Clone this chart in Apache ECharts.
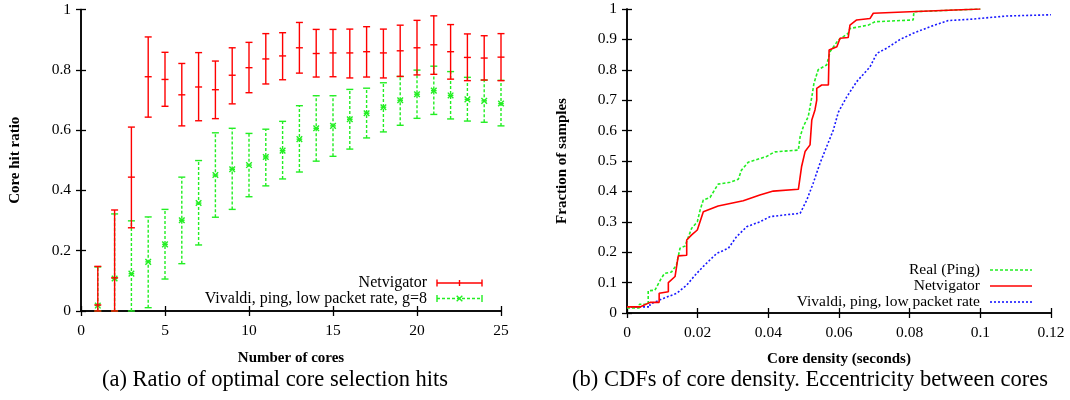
<!DOCTYPE html>
<html>
<head>
<meta charset="utf-8">
<script src="https://cdn.jsdelivr.net/npm/echarts@6/dist/echarts.min.js"></script>
<style>
html,body{margin:0;padding:0;background:#fff;}
#chart{width:1070px;height:400px;}
</style>
</head>
<body>
<div id="chart"></div>
<script>
// ---------- Data: left panel (error bars) ----------
const cores = [1,2,3,4,5,6,7,8,9,10,11,12,13,14,15,16,17,18,19,20,21,22,23,24,25];
const netMean = [0.02,0.11,0.444,0.777,0.768,0.717,0.743,0.734,0.782,0.807,0.836,0.846,0.873,0.854,0.856,0.856,0.860,0.856,0.863,0.873,0.883,0.860,0.841,0.839,0.842];
const netHigh = [0.148,0.335,0.610,0.909,0.858,0.821,0.857,0.829,0.873,0.891,0.920,0.923,0.957,0.934,0.934,0.935,0.943,0.935,0.948,0.964,0.979,0.950,0.919,0.913,0.920];
const netLow  = [0,0,0.276,0.643,0.679,0.614,0.631,0.638,0.687,0.724,0.753,0.767,0.789,0.776,0.777,0.773,0.776,0.773,0.778,0.783,0.785,0.769,0.764,0.766,0.764];
const vivMean = [0.018,0.108,0.124,0.163,0.221,0.301,0.358,0.451,0.470,0.484,0.511,0.532,0.570,0.606,0.614,0.636,0.656,0.676,0.699,0.719,0.731,0.715,0.702,0.697,0.688];
const vivHigh = [0.146,0.322,0.299,0.312,0.337,0.444,0.499,0.591,0.606,0.589,0.603,0.629,0.681,0.714,0.714,0.735,0.739,0.757,0.778,0.799,0.812,0.794,0.775,0.766,0.765];
const vivLow  = [0,0,0,0.011,0.106,0.157,0.219,0.311,0.337,0.379,0.415,0.438,0.461,0.497,0.513,0.537,0.574,0.594,0.616,0.639,0.652,0.637,0.630,0.626,0.614];
const leftXTicks = [0,5,10,15,20,25];
const leftYTicks = [0,0.2,0.4,0.6,0.8,1];

// ---------- Data: right panel (CDFs) ----------
const realX = [0,0.0035,0.0035,0.006,0.006,0.0079,0.0095,0.0106,0.0126,0.014,0.015,0.0164,0.0183,0.0199,0.0207,0.0216,0.0235,0.0258,0.0292,0.0315,0.0324,0.0343,0.0348,0.0395,0.041,0.0419,0.0485,0.049,0.0499,0.0513,0.0523,0.0529,0.0541,0.0565,0.0575,0.0598,0.0626,0.0631,0.0683,0.0702,0.081,0.0812,0.1];
const realY = [0.017,0.017,0.029,0.029,0.073,0.075,0.11,0.13,0.135,0.158,0.213,0.22,0.279,0.30,0.339,0.372,0.38,0.424,0.43,0.44,0.47,0.496,0.50,0.515,0.525,0.53,0.536,0.58,0.613,0.646,0.71,0.755,0.80,0.816,0.86,0.898,0.92,0.936,0.947,0.958,0.964,0.991,1.0];
const netvX = [0,0.0037,0.0037,0.0065,0.0091,0.0091,0.0117,0.0117,0.0136,0.0145,0.0169,0.0169,0.0183,0.0199,0.0216,0.0258,0.0329,0.0376,0.0414,0.0485,0.049,0.0494,0.0504,0.0518,0.0523,0.0532,0.0537,0.0537,0.0551,0.057,0.0572,0.0594,0.0603,0.0626,0.0631,0.065,0.0688,0.0697,0.08,0.1];
const netvY = [0.02,0.02,0.026,0.035,0.035,0.065,0.07,0.1,0.12,0.188,0.19,0.24,0.257,0.273,0.333,0.352,0.369,0.388,0.401,0.407,0.407,0.481,0.531,0.553,0.635,0.668,0.70,0.739,0.75,0.75,0.865,0.876,0.904,0.906,0.947,0.964,0.969,0.986,0.991,1.0];
const vivX = [0,0.0065,0.0065,0.0103,0.0141,0.0169,0.0197,0.022,0.0254,0.0287,0.031,0.0339,0.0376,0.0405,0.0442,0.049,0.0509,0.0527,0.0546,0.0565,0.0584,0.0598,0.0622,0.065,0.0688,0.0707,0.0735,0.0773,0.081,0.0858,0.0909,0.097,0.1075,0.12];
const vivY = [0.02,0.02,0.029,0.048,0.065,0.092,0.13,0.158,0.196,0.213,0.251,0.284,0.30,0.317,0.322,0.328,0.372,0.427,0.492,0.547,0.602,0.66,0.711,0.761,0.81,0.854,0.871,0.90,0.92,0.942,0.962,0.966,0.977,0.981];
const rightXTicks = [0,0.02,0.04,0.06,0.08,0.1,0.12];
const rightYTicks = [0,0.1,0.2,0.3,0.4,0.5,0.6,0.7,0.8,0.9,1];

const seriesNames = ['Netvigator','Vivaldi, ping, low packet rate, g=8','Real (Ping)','Netvigator','Vivaldi, ping, low packet rate'];
const captions = ['(a) Ratio of optimal core selection hits','(b) CDFs of core density. Eccentricity between cores'];

const RED = '#ff0000', GREEN = '#22ee22', BLUE = '#1a1aff';
const FONT = 'Liberation Serif';

function zip(a,b){ return a.map((v,i)=>[v,b[i]]); }

function errRender(color, dashed, marker){
  return function(params, api){
    const x = api.value(0), lo = api.value(1), hi = api.value(2), m = api.value(3);
    const pL = api.coord([x,lo]), pH = api.coord([x,hi]), pM = api.coord([x,m]);
    const st = {stroke: color, lineWidth: 1.4, fill: null};
    const dst = dashed ? Object.assign({}, st, {lineDash:[3,2]}) : st;
    const c = 3.5;
    const ch = [
      {type:'line', shape:{x1:pL[0],y1:pL[1],x2:pH[0],y2:pH[1]}, style:dst},
      {type:'line', shape:{x1:pL[0]-c,y1:pL[1],x2:pL[0]+c,y2:pL[1]}, style:st},
      {type:'line', shape:{x1:pH[0]-c,y1:pH[1],x2:pH[0]+c,y2:pH[1]}, style:st}
    ];
    if (marker === 'plus') {
      ch.push({type:'line', shape:{x1:pM[0]-3.5,y1:pM[1],x2:pM[0]+3.5,y2:pM[1]}, style:st});
    } else {
      const s = 2.8;
      ch.push({type:'line', shape:{x1:pM[0]-s,y1:pM[1]-s,x2:pM[0]+s,y2:pM[1]+s}, style:st});
      ch.push({type:'line', shape:{x1:pM[0]-s,y1:pM[1]+s,x2:pM[0]+s,y2:pM[1]-s}, style:st});
      ch.push({type:'line', shape:{x1:pM[0]-s,y1:pM[1],x2:pM[0]+s,y2:pM[1]}, style:st});
    }
    return {type:'group', children: ch};
  };
}

const chart = echarts.init(document.getElementById('chart'), null, {renderer:'canvas'});

const axisLineStyle = {show:true, lineStyle:{color:'#000', width:1.5}};
const tickIn = {show:true, inside:true, length:5, lineStyle:{color:'#000', width:1.3}};
const labelStyle = {color:'#000', fontFamily:FONT, fontSize:15.5};
const nameStyle = {color:'#000', fontFamily:FONT, fontSize:15, fontWeight:'bold'};

function mirrorX(grid, min, max, interval){
  return {type:'value', gridIndex:grid, position:'top', min, max, interval,
    axisLine:axisLineStyle, axisTick:tickIn, axisLabel:{show:false}, splitLine:{show:false}};
}
function mirrorY(grid, min, max, interval){
  return {type:'value', gridIndex:grid, position:'right', min, max, interval,
    axisLine:axisLineStyle, axisTick:tickIn, axisLabel:{show:false}, splitLine:{show:false}};
}

const option = {
  backgroundColor:'#fff',
  animation:false,
  grid:[
    {left:81, right:569, top:9.5, bottom:89},
    {left:627, right:19, top:9, bottom:87}
  ],
  xAxis:[
    {type:'value', gridIndex:0, min:leftXTicks[0], max:leftXTicks[leftXTicks.length-1], interval:5,
     axisLine:axisLineStyle, axisTick:tickIn, splitLine:{show:false},
     axisLabel:Object.assign({margin:12}, labelStyle),
     name:'Number of cores', nameLocation:'middle', nameGap:40, nameTextStyle:nameStyle},
    mirrorX(0, 0, 25, 5),
    {type:'value', gridIndex:1, min:rightXTicks[0], max:rightXTicks[rightXTicks.length-1], interval:0.02,
     axisLine:axisLineStyle, axisTick:tickIn, splitLine:{show:false},
     axisLabel:Object.assign({margin:12}, labelStyle),
     name:'Core density (seconds)', nameLocation:'middle', nameGap:39, nameTextStyle:nameStyle},
    mirrorX(1, 0, 0.12, 0.02)
  ],
  yAxis:[
    {type:'value', gridIndex:0, min:leftYTicks[0], max:leftYTicks[leftYTicks.length-1], interval:0.2,
     axisLine:axisLineStyle, axisTick:tickIn, splitLine:{show:false},
     axisLabel:Object.assign({margin:10}, labelStyle),
     name:'Core hit ratio', nameLocation:'middle', nameGap:58, nameRotate:90, nameTextStyle:nameStyle},
    mirrorY(0, 0, 1, 0.2),
    {type:'value', gridIndex:1, min:rightYTicks[0], max:rightYTicks[rightYTicks.length-1], interval:0.1,
     axisLine:axisLineStyle, axisTick:tickIn, splitLine:{show:false},
     axisLabel:Object.assign({margin:10}, labelStyle),
     name:'Fraction of samples', nameLocation:'middle', nameGap:57, nameRotate:90, nameTextStyle:nameStyle},
    mirrorY(1, 0, 1, 0.1)
  ],
  series:[
    {type:'custom', name:seriesNames[1], xAxisIndex:0, yAxisIndex:0, clip:false,
     renderItem: errRender(GREEN, true, 'cross'),
     encode:{x:0, y:[1,2,3]},
     data: cores.map((c,i)=>[c, vivLow[i], vivHigh[i], vivMean[i]]), z:2},
    {type:'custom', name:seriesNames[0], xAxisIndex:0, yAxisIndex:0, clip:false,
     renderItem: errRender(RED, false, 'plus'),
     encode:{x:0, y:[1,2,3]},
     data: cores.map((c,i)=>[c, netLow[i], netHigh[i], netMean[i]]), z:3},
    {type:'line', name:seriesNames[4], xAxisIndex:2, yAxisIndex:2, data: zip(vivX, vivY),
     showSymbol:false, lineStyle:{color:BLUE, width:1.6, type:[2,2]}, z:2},
    {type:'line', name:seriesNames[2], xAxisIndex:2, yAxisIndex:2, data: zip(realX, realY),
     showSymbol:false, lineStyle:{color:GREEN, width:1.6, type:[3,2]}, z:3},
    {type:'line', name:seriesNames[3], xAxisIndex:2, yAxisIndex:2, data: zip(netvX, netvY),
     showSymbol:false, lineStyle:{color:RED, width:1.6}, z:4}
  ],
  graphic:[
    // left legend
    {type:'text', x:427, y:283, style:{text:seriesNames[0], textAlign:'right', textVerticalAlign:'middle', font:'16px "Liberation Serif"', fill:'#000'}},
    {type:'line', shape:{x1:437,y1:283,x2:482,y2:283}, style:{stroke:RED, lineWidth:1.4}},
    {type:'line', shape:{x1:437,y1:279.5,x2:437,y2:286.5}, style:{stroke:RED, lineWidth:1.4}},
    {type:'line', shape:{x1:482,y1:279.5,x2:482,y2:286.5}, style:{stroke:RED, lineWidth:1.4}},
    {type:'line', shape:{x1:459.5,y1:280,x2:459.5,y2:286}, style:{stroke:RED, lineWidth:1.4}},
    {type:'text', x:427, y:298.5, style:{text:seriesNames[1], textAlign:'right', textVerticalAlign:'middle', font:'16px "Liberation Serif"', fill:'#000'}},
    {type:'line', shape:{x1:437,y1:298.5,x2:482,y2:298.5}, style:{stroke:GREEN, lineWidth:1.4, lineDash:[3,2]}},
    {type:'line', shape:{x1:437,y1:295,x2:437,y2:302}, style:{stroke:GREEN, lineWidth:1.4}},
    {type:'line', shape:{x1:482,y1:295,x2:482,y2:302}, style:{stroke:GREEN, lineWidth:1.4}},
    {type:'line', shape:{x1:456.7,y1:295.7,x2:462.3,y2:301.3}, style:{stroke:GREEN, lineWidth:1.4}},
    {type:'line', shape:{x1:456.7,y1:301.3,x2:462.3,y2:295.7}, style:{stroke:GREEN, lineWidth:1.4}},
    // right legend
    {type:'text', x:980, y:270, style:{text:seriesNames[2], textAlign:'right', textVerticalAlign:'middle', font:'15.5px "Liberation Serif"', fill:'#000'}},
    {type:'line', shape:{x1:990,y1:270,x2:1032,y2:270}, style:{stroke:GREEN, lineWidth:1.6, lineDash:[3,2]}},
    {type:'text', x:980, y:286, style:{text:seriesNames[3], textAlign:'right', textVerticalAlign:'middle', font:'15.5px "Liberation Serif"', fill:'#000'}},
    {type:'line', shape:{x1:990,y1:286,x2:1032,y2:286}, style:{stroke:RED, lineWidth:1.6}},
    {type:'text', x:980, y:302, style:{text:seriesNames[4], textAlign:'right', textVerticalAlign:'middle', font:'15.5px "Liberation Serif"', fill:'#000'}},
    {type:'line', shape:{x1:990,y1:302,x2:1032,y2:302}, style:{stroke:BLUE, lineWidth:1.6, lineDash:[2,2]}},
    // captions
    {type:'text', x:275, y:380, style:{text:captions[0], textAlign:'center', textVerticalAlign:'middle', font:'22.5px "Liberation Serif"', fill:'#000'}},
    {type:'text', x:810, y:380, style:{text:captions[1], textAlign:'center', textVerticalAlign:'middle', font:'22.5px "Liberation Serif"', fill:'#000'}}
  ]
};
chart.setOption(option);
</script>
</body>
</html>
